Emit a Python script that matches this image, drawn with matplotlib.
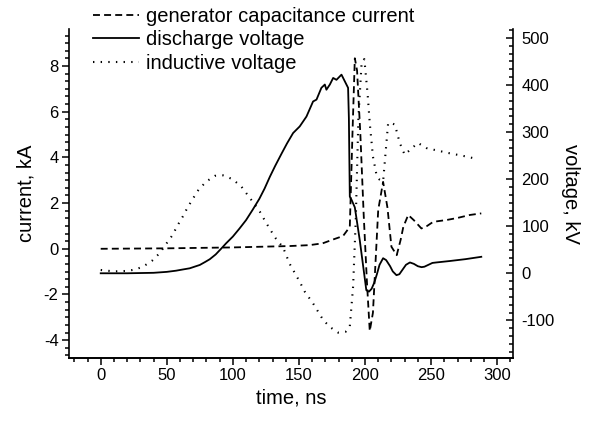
import matplotlib
matplotlib.use("Agg")
import matplotlib.pyplot as plt
from matplotlib.ticker import MultipleLocator, AutoMinorLocator

plt.rcParams["font.family"] = ["Liberation Sans", "DejaVu Sans"]
plt.rcParams["lines.scale_dashes"] = False
plt.rcParams["axes.unicode_minus"] = False

# generator capacitance current, kA (left axis)
t_gen = [0, 50, 100, 143, 158, 168, 176, 183.4, 188.5, 190.5, 192.3, 194, 196.5,
         199, 201.5, 203.6, 206, 210, 213.7, 217, 220, 224, 227, 229, 232.7,
         237, 242.7, 247, 251.6, 261.7, 270, 279.3, 288]
i_gen = [0, 0.02, 0.06, 0.12, 0.16, 0.24, 0.41, 0.56, 0.96, 5.0, 8.34, 7.8, 5.0,
         1.5, -1.5, -3.6, -2.8, 1.7, 2.93, 1.8, 0.09, -0.28, 0.4, 0.96, 1.48,
         1.25, 0.89, 1.0, 1.18, 1.26, 1.35, 1.48, 1.55]

# discharge voltage, kV (right axis)
t_dis = [0, 20, 40, 50, 57, 62, 67.4, 71, 75, 79, 82.5, 87, 91.4, 95, 100,
         105, 110, 115, 120, 124, 128, 132, 137, 141, 145.6, 150.6, 155.7,
         160.7, 163.3, 167, 169.6, 170.8, 173.4, 175.9, 178.4, 182.2, 184.7,
         187.2, 187.8, 188.5, 190, 192.3, 196, 201, 203, 205, 207, 209, 211,
         213.7, 216, 219, 221, 223.8, 226, 228, 231, 234, 237, 240, 242.8,
         245, 248, 251, 254, 264, 276, 288]
v_dis = [0, 0, 1, 3, 5.5, 8, 10.6, 14, 17.7, 24, 29.8, 40, 53, 64, 78,
         95, 113, 135, 158, 180, 205, 228, 255, 276, 298, 312, 333,
         365, 369, 394, 401, 390, 401, 415, 411, 422, 408,
         394, 330, 163, 155, 140, 71, -36, -39, -33, -20, -2, 18,
         32, 28, 15, 4, -4, -2, 6, 18, 23, 20, 15, 13,
         14, 18, 22, 23, 26, 30, 35]

# inductive voltage, kV (right axis)
t_ind = [0, 10, 20, 26, 32, 39, 44.7, 49.7, 54.3, 58, 61.8, 65.4, 69.2, 73.7,
         79.5, 86.3, 92.6, 99.7, 106.5, 111, 115.8, 120.4, 124, 128, 132.5,
         138, 143, 147, 150.6, 154.4, 160.7, 168.3, 173.4, 179.6, 185.5,
         188.5, 191, 193, 195, 197.5, 199.5, 202, 203.6, 206, 208.7, 211,
         213.7, 217.5, 219, 222.6, 226.3, 230, 234, 240, 246.5, 252.8, 264,
         276.8, 284.4]
v_ind = [7, 4, 5, 8, 14, 27, 43, 63, 81, 101, 119, 138, 156, 176,
         194, 207, 208, 200, 184, 167, 149, 131, 113, 94, 74,
         55, 20, 0, -18, -39, -64, -99, -114, -126, -124,
         -113, -28, 113, 330, 450, 455, 380, 319, 248, 209, 199,
         195, 319, 320, 316, 277, 252, 262, 277, 266, 262, 255,
         248, 243]

W, H = 589, 423
fig = plt.figure(figsize=(W / 100, H / 100), dpi=100)
ax = fig.add_axes([69 / W, 1 - 358 / H, (513 - 69) / W, (358 - 29) / H])
ax2 = ax.twinx()

l1, = ax.plot(t_gen, i_gen, color="black", lw=1.3, ls=(0, (5, 3)),
              label="generator capacitance current")
l2, = ax2.plot(t_dis, v_dis, color="black", lw=1.3, ls="-",
               label="discharge voltage")
l3, = ax2.plot(t_ind, v_ind, color="black", lw=1.5, ls=(0, (1, 4.5)),
               label="inductive voltage")

ax.set_xlim(-24, 312)
ax.set_ylim(-4.78, 9.62)
ax2.set_ylim(-180, 519)

ax.xaxis.set_major_locator(MultipleLocator(50))
ax.xaxis.set_minor_locator(AutoMinorLocator(5))
ax.yaxis.set_major_locator(MultipleLocator(2))
ax.yaxis.set_minor_locator(AutoMinorLocator(6))
ax2.yaxis.set_major_locator(MultipleLocator(100))
ax2.yaxis.set_minor_locator(AutoMinorLocator(6))

for a in (ax, ax2):
    a.spines["top"].set_visible(False)
    for s in a.spines.values():
        s.set_linewidth(1.2)
ax.spines["right"].set_visible(False)
ax2.spines["left"].set_visible(False)

ax.tick_params(which="both", direction="out", top=False, right=False, width=1.1)
ax.tick_params(which="major", length=5, labelsize=12, pad=2.5)
ax.tick_params(which="minor", length=3)
ax2.tick_params(which="both", direction="in", left=False, width=1.1)
ax2.tick_params(which="major", length=5, labelsize=12, pad=6)
ax2.tick_params(which="minor", length=3)

ax.set_xlabel("time, ns", fontsize=14.5, labelpad=4)
ax.set_ylabel("current, kA", fontsize=14.5, labelpad=6)
ax2.set_ylabel("voltage, kV", fontsize=14.5, rotation=270, labelpad=18)

fig.legend(handles=[l1, l2, l3], loc="upper left",
           bbox_to_anchor=(93 / W, 1 - 7 / H), frameon=False, fontsize=14.5,
           handlelength=2.3, handletextpad=0.35, labelspacing=0.22,
           borderpad=0, borderaxespad=0)

fig.savefig("out.png", dpi=100)
